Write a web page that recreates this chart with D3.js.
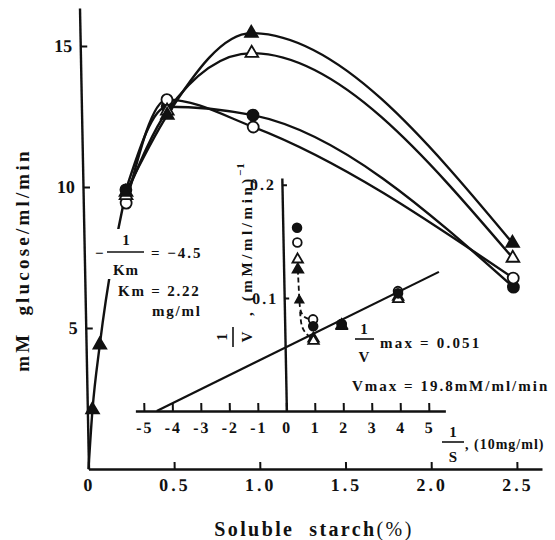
<!DOCTYPE html>
<html>
<head>
<meta charset="utf-8">
<script src="https://cdn.jsdelivr.net/npm/d3@7"></script>
<style>
body { margin: 0; background: #fff; }
svg text { font-family: "Liberation Serif", "DejaVu Serif", serif; font-weight: bold; fill: #111; }
</style>
</head>
<body>
<div id="chart"></div>
<script>
// main plot: glucose vs soluble starch (%)
var starch = [0.25, 0.5, 1.0, 2.5]
var glcFilledTri = [9.82, 12.55, 15.46, 8.01]
var glcOpenTri = [9.7, 12.7, 14.75, 7.48]
var glcOpenCirc = [9.43, 13.1, 12.13, 6.77]
var glcFilledCirc = [9.9, 12.85, 12.55, 6.45]

// low concentration part (filled triangles), starts at origin
var lowStarch = [0, 0.03, 0.08, 0.25]
var lowGlc = [0, 2.1, 4.4, 9.82]

var xTicks = [0, 0.5, 1.0, 1.5, 2.0, 2.5]
var xTickLabels = ["0", "0.5", "1.0", "1.5", "2.0", "2.5"]
var yTicks = [5, 10, 15]

// inset: Lineweaver-Burk plot
var invS = [0.5, 1, 2, 4]
var invFilledTri = [0.125, 0.064, 0.075, 0.101]
var invOpenTri = [0.134, 0.062, 0.076, 0.099]
var invOpenCirc = [0.149, 0.081, 0.077, 0.106]
var invFilledCirc = [0.162, 0.075, 0.077, 0.104]

var lbS = [-4.55, 5.45]
var lbV = [0, 0.123]

var dashAS = [0.5, 0.53, 0.55, 0.7, 0.94]
var dashAV = [0.125, 0.098, 0.088, 0.082, 0.081]
var dashBS = [0.55, 0.57, 0.7, 0.95]
var dashBV = [0.088, 0.076, 0.069, 0.064]
var dashMarkS = [0.53]
var dashMarkV = [0.098]

var insetXTicks = [-5, -4, -3, -2, -1, 0, 1, 2, 3, 4, 5]
var insetYTicks = [0.1, 0.2]

var svg = d3.select("#chart").append("svg")
  .attr("width", 555)
  .attr("height", 540)

// the scanned figure is slightly sheared, copy that
var plot = svg.append("g")
  .attr("transform", "translate(0,469) skewX(1.12) translate(0,-469)")

// scales
var x = d3.scaleLinear().domain([0, 2.646]).range([88.5, 542])
var y = d3.scaleLinear().domain([0, 16.35]).range([469, 8])

var xi = d3.scaleLinear().domain([-5.3, 5.58]).range([136.5, 446.5])
var yi = d3.scaleLinear().domain([0, 0.206]).range([411, 178])

function styleAxis(g, size, spacing) {
  g.attr("font-size", size)
  g.select(".domain").attr("stroke", "#111").attr("stroke-width", 2.4)
  g.selectAll(".tick line").attr("stroke", "#111").attr("stroke-width", 2)
  g.selectAll(".tick text").style("letter-spacing", spacing + "px")
}

// main axes
plot.append("g")
  .attr("transform", "translate(0,469)")
  .call(d3.axisBottom(x).tickValues(xTicks).tickSize(-7).tickSizeOuter(0).tickPadding(9)
    .tickFormat(function(d, i) { return xTickLabels[i] }))
  .call(styleAxis, 18, 3)

plot.append("g")
  .attr("transform", "translate(88.5,0)")
  .call(d3.axisLeft(y).tickValues(yTicks).tickSize(-7).tickSizeOuter(0).tickPadding(8))
  .call(styleAxis, 18, 0)

// inset axes
plot.append("g")
  .attr("transform", "translate(0," + yi(0) + ")")
  .call(d3.axisBottom(xi).tickValues(insetXTicks).tickSize(-8).tickSizeOuter(0).tickPadding(11)
    .tickFormat(function(d) { return d < 0 ? "-" + Math.abs(d) : d }))
  .call(styleAxis, 16, 2)

plot.append("g")
  .attr("transform", "translate(" + xi(0) + ",0)")
  .call(d3.axisLeft(yi).tickValues(insetYTicks).tickSize(-5).tickSizeOuter(0).tickPadding(6)
    .tickFormat(d3.format(".1f")))
  .call(styleAxis, 16, 2)

// main curves
var mainSeries = [
  {vals: glcFilledTri, sym: d3.symbolTriangle, filled: true},
  {vals: glcOpenTri, sym: d3.symbolTriangle, filled: false},
  {vals: glcOpenCirc, sym: d3.symbolCircle, filled: false},
  {vals: glcFilledCirc, sym: d3.symbolCircle, filled: true}
]

var mainLine = d3.line()
  .x(function(d) { return x(d[0]) })
  .y(function(d) { return y(d[1]) })
  .curve(d3.curveMonotoneX)

mainSeries.forEach(function(s) {
  plot.append("path")
    .datum(d3.zip(starch, s.vals))
    .attr("d", mainLine)
    .attr("fill", "none")
    .attr("stroke", "#111")
    .attr("stroke-width", 2.4)
})

plot.append("path")
  .datum(d3.zip(lowStarch, lowGlc))
  .attr("d", mainLine)
  .attr("fill", "none")
  .attr("stroke", "#111")
  .attr("stroke-width", 2.4)

// inset lines
var insetLine = d3.line()
  .x(function(d) { return xi(d[0]) })
  .y(function(d) { return yi(d[1]) })

plot.append("path")
  .datum(d3.zip(lbS, lbV))
  .attr("d", insetLine)
  .attr("fill", "none")
  .attr("stroke", "#111")
  .attr("stroke-width", 2.2)

;[[dashAS, dashAV], [dashBS, dashBV]].forEach(function(p) {
  plot.append("path")
    .datum(d3.zip(p[0], p[1]))
    .attr("d", insetLine.curve(d3.curveBasis))
    .attr("fill", "none")
    .attr("stroke", "#111")
    .attr("stroke-width", 1.8)
    .attr("stroke-dasharray", "5,3")
})

// markers
function drawMarks(xs, ys, sx, sy, sym, filled, size) {
  plot.selectAll(null)
    .data(d3.zip(xs, ys))
    .enter()
    .append("path")
    .attr("d", d3.symbol().type(sym).size(size))
    .attr("transform", function(d) { return "translate(" + sx(d[0]) + "," + sy(d[1]) + ")" })
    .attr("fill", filled ? "#111" : "#fff")
    .attr("stroke", "#111")
    .attr("stroke-width", 1.8)
}

mainSeries.slice().reverse().forEach(function(s) {
  drawMarks(starch, s.vals, x, y, s.sym, s.filled, s.sym === d3.symbolTriangle ? 70 : 95)
})
drawMarks(lowStarch.slice(1, 3), lowGlc.slice(1, 3), x, y, d3.symbolTriangle, true, 70)

var insetSeries = [
  {vals: invFilledTri, sym: d3.symbolTriangle, filled: true},
  {vals: invOpenTri, sym: d3.symbolTriangle, filled: false},
  {vals: invOpenCirc, sym: d3.symbolCircle, filled: false},
  {vals: invFilledCirc, sym: d3.symbolCircle, filled: true}
]
insetSeries.forEach(function(s) {
  drawMarks(invS, s.vals, xi, yi, s.sym, s.filled, s.sym === d3.symbolTriangle ? 48 : 60)
})
drawMarks(dashMarkS, dashMarkV, xi, yi, d3.symbolTriangle, true, 28)

// annotations
var notes = svg.append("g")

// gap in the steep line behind the Km label
notes.append("rect")
  .attr("x", 104).attr("y", 229).attr("width", 44).attr("height", 50)
  .attr("fill", "#fff")

function txt(g, str, tx, ty, size, anchor, spacing) {
  return g.append("text")
    .attr("x", tx).attr("y", ty)
    .attr("font-size", size)
    .attr("text-anchor", anchor || "start")
    .style("letter-spacing", (spacing || 0) + "px")
    .style("white-space", "pre")
    .text(str)
}

function bar(g, x1, x2, yy) {
  g.append("line")
    .attr("x1", x1).attr("x2", x2).attr("y1", yy).attr("y2", yy)
    .attr("stroke", "#111").attr("stroke-width", 1.6)
}

// -1/Km = -4.5
txt(notes, "\u2212", 95, 258, 15)
txt(notes, "1", 126, 245, 15, "middle")
bar(notes, 107, 144, 252)
txt(notes, "Km", 126, 275, 15, "middle", 1)
txt(notes, "= \u22124.5", 151, 258, 15, "start", 2)
txt(notes, "Km = 2.22", 118, 296, 15, "start", 1.8)
txt(notes, "mg/ml", 152, 316, 15, "start", 1.8)

// inset y label, rotated
var vlab = notes.append("g").attr("transform", "translate(233,337) rotate(-90)")
txt(vlab, "1", 0, -6, 15, "middle")
bar(vlab, -10, 10, 0)
txt(vlab, "V", 0, 19, 15, "middle")
var ulab = notes.append("g").attr("transform", "translate(252,316) rotate(-90)")
txt(ulab, ", (mM/ml/min)", 0, 0, 15, "start", 3.6)
var sup = notes.append("g").attr("transform", "translate(244,176) rotate(-90)")
txt(sup, "\u22121", 0, 0, 11, "start", 1)

// 1/V max
txt(notes, "1", 364, 334, 15, "middle")
bar(notes, 355, 374, 339)
txt(notes, "V", 364, 362, 15, "middle")
txt(notes, "max = 0.051", 380, 348, 15, "start", 2.2)
txt(notes, "Vmax = 19.8mM/ml/min", 352, 391, 15, "start", 2)

// 1/S
txt(notes, "1", 453, 437, 15, "middle")
bar(notes, 442, 464, 442)
txt(notes, "S", 453, 462, 15, "middle")
txt(notes, ", (10mg/ml)", 465, 449, 14, "start", 1)

// axis titles
var ylab = notes.append("g").attr("transform", "translate(29,260) rotate(-90)")
txt(ylab, "mM  glucose/ml/min", 0, 0, 19, "middle", 3.2)

var xlab = txt(notes, "", 314, 536, 20, "middle", 2.4)
xlab.append("tspan").text("Soluble  starch")
xlab.append("tspan").attr("font-weight", "normal").style("font-weight", "normal").text("(%)")
</script>
</body>
</html>
